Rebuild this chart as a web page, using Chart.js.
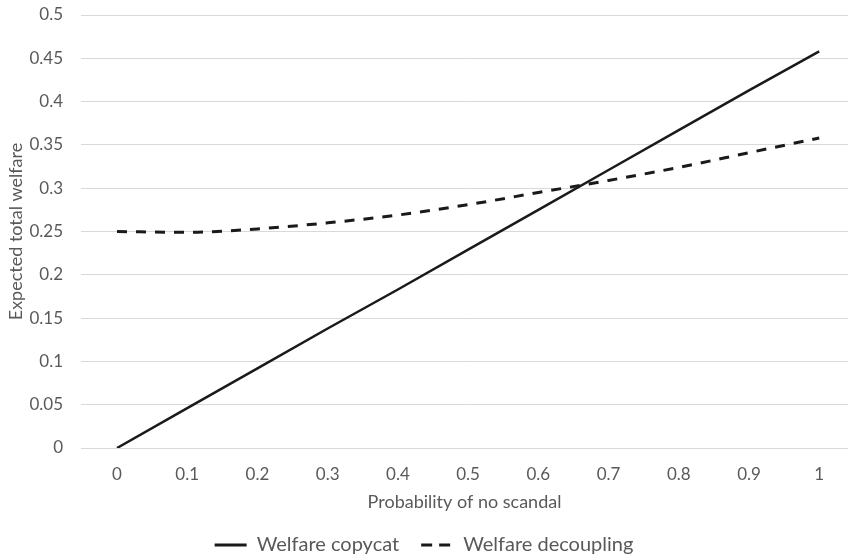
<!DOCTYPE html>
<html>
<head>
<meta charset="utf-8">
<script src="https://cdn.jsdelivr.net/npm/chart.js@4.4.0/dist/chart.umd.min.js"></script>
<style>
html,body{margin:0;padding:0;background:#fff;}
#wrap{width:848px;height:554px;position:relative;}
</style>
</head>
<body>
<div id="wrap"><canvas id="c" width="848" height="554"></canvas></div>
<script>
const probabilities = [0, 0.1, 0.2, 0.3, 0.4, 0.5, 0.6, 0.7, 0.8, 0.9, 1];
const welfareCopycat = [0, 0.046, 0.092, 0.138, 0.183, 0.229, 0.275, 0.321, 0.367, 0.413, 0.458];
const welfareDecoupling = [0.250, 0.249, 0.253, 0.260, 0.269, 0.281, 0.295, 0.309, 0.324, 0.341, 0.358];
const xTickValues = [0, 0.1, 0.2, 0.3, 0.4, 0.5, 0.6, 0.7, 0.8, 0.9, 1];
const yTickValues = [0, 0.05, 0.1, 0.15, 0.2, 0.25, 0.3, 0.35, 0.4, 0.45, 0.5];
const seriesNames = ['Welfare copycat', 'Welfare decoupling'];

const toPoints = (xs, ys) => xs.map((x, i) => ({x: x, y: ys[i]}));
const FONT = 'Lato';
const GREY = '#595959';
const legendDashes = [[], [11, 7]];

new Chart(document.getElementById('c'), {
  type: 'line',
  data: {
    datasets: [
      {
        label: seriesNames[0],
        data: toPoints(probabilities, welfareCopycat),
        borderColor: '#1a1a1a',
        backgroundColor: '#1a1a1a',
        borderWidth: 2.5,
        pointRadius: 0,
        tension: 0
      },
      {
        label: seriesNames[1],
        data: toPoints(probabilities, welfareDecoupling),
        borderColor: '#1a1a1a',
        backgroundColor: '#1a1a1a',
        borderWidth: 3,
        borderDash: [10, 9],
        pointRadius: 0,
        cubicInterpolationMode: 'monotone'
      }
    ]
  },
  options: {
    responsive: false,
    animation: false,
    layout: {padding: {top: 15, right: 0, left: 0, bottom: -11}},
    plugins: {
      legend: {
        position: 'bottom',
        labels: {
          usePointStyle: true,
          pointStyle: 'line',
          pointStyleWidth: 32,
          boxHeight: 3,
          color: GREY,
          font: {family: FONT, size: 20},
          padding: 22,
          generateLabels: (chart) => {
            const items = Chart.defaults.plugins.legend.labels.generateLabels(chart);
            items.forEach((it, i) => {
              it.lineDash = legendDashes[i];
              it.lineWidth = 3;
              it.strokeStyle = '#1a1a1a';
            });
            return items;
          }
        }
      },
      tooltip: {enabled: false}
    },
    scales: {
      x: {
        type: 'linear',
        min: -0.0513,
        max: 1.041,
        afterBuildTicks: (s) => { s.ticks = xTickValues.map(v => ({value: v})); },
        afterFit: (s) => { s.height = 65; s.paddingLeft = 0; s.paddingRight = 0; },
        ticks: {
          color: GREY,
          font: {family: FONT, size: 17},
          padding: 16,
          maxRotation: 0,
          callback: (v) => String(Math.round(v * 10) / 10)
        },
        grid: {display: false, drawTicks: false},
        border: {display: false},
        title: {
          display: true,
          text: 'Probability of no scandal',
          color: GREY,
          font: {family: FONT, size: 18},
          padding: {top: 0, bottom: 0}
        }
      },
      y: {
        min: 0,
        max: 0.5,
        afterBuildTicks: (s) => { s.ticks = yTickValues.map(v => ({value: v})); },
        afterFit: (s) => { s.width = 81; s.paddingTop = 0; s.paddingBottom = 0; },
        ticks: {
          color: GREY,
          font: {family: FONT, size: 17},
          padding: 18,
          callback: (v) => String(Math.round(v * 100) / 100)
        },
        grid: {color: '#d9d9d9', lineWidth: 1, drawTicks: false},
        border: {display: false},
        title: {
          display: true,
          text: 'Expected total welfare',
          color: GREY,
          font: {family: FONT, size: 18},
          padding: {top: 5, bottom: 0}
        }
      }
    }
  }
});
</script>
</body>
</html>
